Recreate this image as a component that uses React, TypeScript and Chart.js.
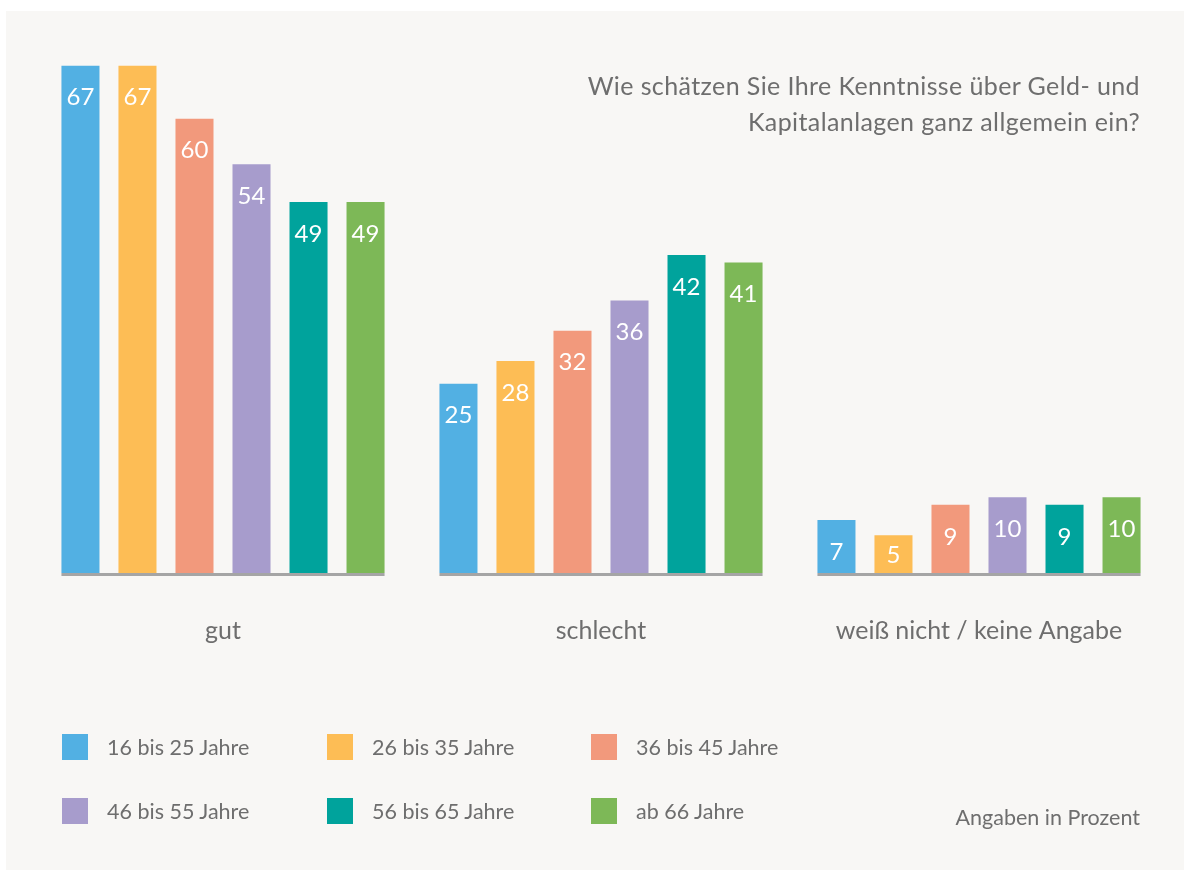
import React, { useEffect, useRef } from "react";
import { Chart, registerables } from "chart.js";

Chart.register(...registerables);

const categories = ["gut", "schlecht", "weiß nicht / keine Angabe"];
const seriesNames = [
  "16 bis 25 Jahre",
  "26 bis 35 Jahre",
  "36 bis 45 Jahre",
  "46 bis 55 Jahre",
  "56 bis 65 Jahre",
  "ab 66 Jahre",
];
const seriesColors = ["#52b0e3", "#fdbd55", "#f2997c", "#a79ccc", "#00a39c", "#7db857"];
const age16to25 = [67, 25, 7];
const age26to35 = [67, 28, 5];
const age36to45 = [60, 32, 9];
const age46to55 = [54, 36, 10];
const age56to65 = [49, 42, 9];
const age66plus = [49, 41, 10];
const seriesValues = [age16to25, age26to35, age36to45, age46to55, age56to65, age66plus];

const titleLines = ["Wie schätzen Sie Ihre Kenntnisse über Geld- und", "Kapitalanlagen ganz allgemein ein?"];
const footnote = "Angaben in Prozent";

const FONT = "Lato, 'Noto Sans', sans-serif";
const TEXT_COLOR = "#6e6e6e";

const valueLabelPlugin = {
  id: "valueLabels",
  afterDatasetsDraw(chart: any) {
    const ctx = chart.ctx;
    ctx.save();
    ctx.fillStyle = "#ffffff";
    ctx.font = "24px " + FONT;
    ctx.textAlign = "center";
    ctx.textBaseline = "middle";
    chart.data.datasets.forEach((ds: any, di: number) => {
      const meta = chart.getDatasetMeta(di);
      meta.data.forEach((bar: any, i: number) => {
        const y = Math.min(bar.y + 32, bar.base - 18);
        ctx.fillText(String(Math.round(ds.data[i])), bar.x, y);
      });
    });
    ctx.restore();
  },
};

const groupBaselinePlugin = {
  id: "groupBaseline",
  afterDatasetsDraw(chart: any) {
    const ctx = chart.ctx;
    const n = chart.data.datasets.length;
    const first = chart.getDatasetMeta(0);
    const last = chart.getDatasetMeta(n - 1);
    ctx.save();
    ctx.fillStyle = "#a5a5a5";
    first.data.forEach((bar: any, i: number) => {
      const lb = last.data[i];
      const x0 = bar.x - bar.width / 2;
      const x1 = lb.x + lb.width / 2;
      ctx.fillRect(x0, bar.base, x1 - x0, 3);
    });
    ctx.restore();
  },
};

function ChartCanvas() {
  const ref = useRef<HTMLCanvasElement | null>(null);
  useEffect(() => {
    if (!ref.current) return;
    const chart = new Chart(ref.current, {
      type: "bar",
      data: {
        labels: categories,
        datasets: seriesNames.map((name, i) => ({
          label: name,
          data: seriesValues[i],
          backgroundColor: seriesColors[i],
          borderWidth: 0,
          categoryPercentage: 0.905,
          barPercentage: 0.667,
        })),
      },
      options: {
        animation: false,
        responsive: false,
        maintainAspectRatio: false,
        layout: { padding: { left: 34, right: 16, top: 43, bottom: 217 } },
        plugins: {
          legend: { display: false },
          title: { display: false },
          tooltip: { enabled: false },
        },
        scales: {
          x: {
            grid: { display: false, drawTicks: false },
            border: { display: false },
            ticks: {
              color: TEXT_COLOR,
              font: { family: FONT, size: 25 },
              padding: 43,
            },
            afterFit(scale: any) {
              scale.height = 80;
            },
          },
          y: {
            display: false,
            min: 0,
            max: 70,
          },
        },
      },
      plugins: [groupBaselinePlugin, valueLabelPlugin],
    });
    return () => chart.destroy();
  }, []);
  return (
    <canvas
      ref={ref}
      width={1184}
      height={870}
      style={{ position: "absolute", left: 0, top: 0, width: 1184, height: 870 }}
    />
  );
}

const legendCols = [62, 327, 591];
const legendRows = [734, 798];

export default function App() {
  return (
    <div
      style={{
        position: "absolute",
        left: 0,
        top: 0,
        width: 1184,
        height: 870,
        background: "#ffffff",
        overflow: "hidden",
        fontFamily: FONT,
      }}
    >
      <div
        style={{
          position: "absolute",
          left: 6,
          top: 11,
          width: 1178,
          height: 859,
          background: "#f8f7f5",
        }}
      />
      <ChartCanvas />
      <div
        style={{
          position: "absolute",
          right: 44,
          top: 67,
          textAlign: "right",
          fontSize: 25,
          letterSpacing: "0.4px",
          lineHeight: "36px",
          color: TEXT_COLOR,
          whiteSpace: "nowrap",
        }}
      >
        {titleLines.map((l, i) => (
          <div key={i}>{l}</div>
        ))}
      </div>
      {seriesNames.map((name, i) => {
        const col = i % 3;
        const row = Math.floor(i / 3);
        return (
          <div
            key={name}
            style={{
              position: "absolute",
              left: legendCols[col],
              top: legendRows[row],
              height: 26,
              display: "flex",
              alignItems: "center",
              whiteSpace: "nowrap",
            }}
          >
            <div style={{ width: 26, height: 26, background: seriesColors[i] }} />
            <div style={{ marginLeft: 19, fontSize: 21.5, color: TEXT_COLOR }}>{name}</div>
          </div>
        );
      })}
      <div
        style={{
          position: "absolute",
          right: 44,
          top: 805,
          fontSize: 21.5,
          lineHeight: "24px",
          color: TEXT_COLOR,
          whiteSpace: "nowrap",
        }}
      >
        {footnote}
      </div>
    </div>
  );
}
